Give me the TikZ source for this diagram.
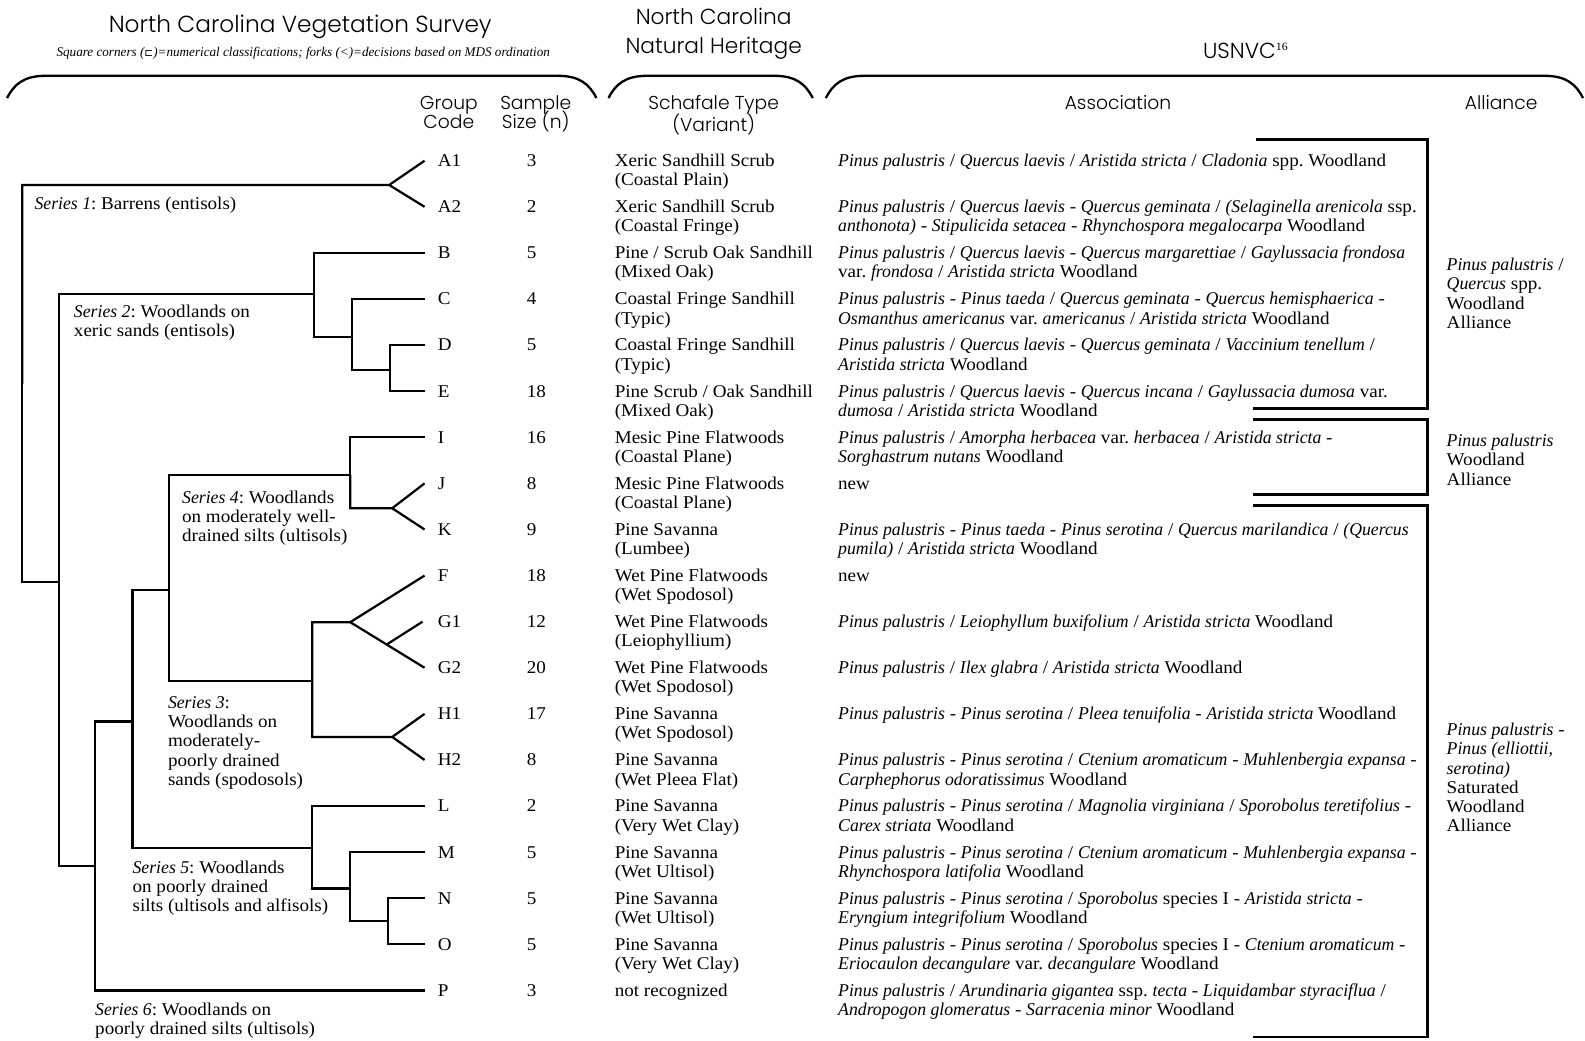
\documentclass[tikz,border=0pt]{standalone}
\usepackage{fontspec}
\setmainfont{Liberation Serif}[UprightFeatures={FakeStretch=1.06},ItalicFeatures={FakeStretch=0.985}]
\newfontfamily\hdr{Poppins Light}
\newfontfamily\symf{DejaVu Sans}
\usetikzlibrary{calc}
\frenchspacing
\newcommand\spn[1]{\textit{#1}}
\newcommand\bodyfont{\fontsize{17.8}{19}\selectfont}
\newcommand\hfont{\hdr\fontsize{18.5}{20}\selectfont}
\newcommand\rowtext[4]{%
  \node[tx] (s-#2) at (608,{159+45.6*#1-7.7}) {\strut #3};
  \node[tx] (a-#2) at (829,{159+45.6*#1-7.7}) {\strut #4};}
\begin{document}
\begin{tikzpicture}[x=1pt,y=-1pt,
  tx/.style={anchor=north west,inner sep=0pt,align=left,font=\bodyfont},
  hd/.style={anchor=base,inner sep=0pt,font=\hfont},
  dend/.style={line width=2.2pt},
  brk/.style={line width=2.6pt},
  brc/.style={line width=2.3pt}]
\useasboundingbox (0,0) rectangle (1568,1029);

% ---------- headers ----------
\node[hd,font=\hdr\fontsize{23}{26}\selectfont] (title) at (297,32) {North Carolina Vegetation Survey};
\node[anchor=base,inner sep=0pt,font=\fontsize{13.2}{15}\selectfont\itshape] (subt) at (300,56)
  {Square corners ({\symf\upshape\fontsize{10.5}{12}\selectfont ⊏})=numerical classifications; forks (<)=decisions based on MDS ordination};
\node[hd,font=\hdr\fontsize{21.5}{24}\selectfont] (nc) at (706,24) {North Carolina};
\node[hd,font=\hdr\fontsize{21.5}{24}\selectfont] (nh) at (706,53) {Natural Heritage};
\node[hd,font=\hdr\fontsize{21.5}{24}\selectfont] (usnvc) at (1232,58) {USNVC\raisebox{8pt}{\rmfamily\fontsize{11}{12}\selectfont 16}};
\node[hd] (grp) at (444,108) {Group};
\node[hd] (code) at (444,127) {Code};
\node[hd] (smp) at (530,108) {Sample};
\node[hd] (siz) at (530,127) {Size (n)};
\node[hd] (sch) at (706,108) {Schafale Type};
\node[hd] (var) at (706,130) {(Variant)};
\node[hd] (asc) at (1106,108) {Association};
\node[hd] (all) at (1485,108) {Alliance};

% ---------- header braces ----------
\draw[brc] (7,97) .. controls (14,83) and (24,75) .. (45,75) -- (552,75) .. controls (573,75) and (583,83) .. (590,97);
\draw[brc] (602,97) .. controls (609,83) and (619,75) .. (640,75) -- (766,75) .. controls (787,75) and (797,83) .. (804,97);
\draw[brc] (817,97) .. controls (824,83) and (834,75) .. (855,75) -- (1528,75) .. controls (1549,75) and (1559,83) .. (1566,97);

% ---------- rows: codes and sample sizes ----------
\foreach \k/\c/\n in {0/A1/3,1/A2/2,2/B/5,3/C/4,4/D/5,5/E/18,6/I/16,7/J/8,8/K/9,9/F/18,10/G1/12,11/G2/20,12/H1/17,13/H2/8,14/L/2,15/M/5,16/N/5,17/O/5,18/P/3}{
  \coordinate (l-\c) at (420,{159+45.6*\k});
  \node[tx] (c-\c) at (433,{159+45.6*\k-7.7}) {\strut\c};
  \node[tx] (n-\c) at (521,{159+45.6*\k-7.7}) {\strut\n};
}

% ---------- Schafale types and associations ----------
\rowtext{0}{A1}{Xeric Sandhill Scrub\\(Coastal Plain)}{\spn{Pinus palustris} / \spn{Quercus laevis} / \spn{Aristida stricta} / \spn{Cladonia} spp. Woodland}
\rowtext{1}{A2}{Xeric Sandhill Scrub\\(Coastal Fringe)}{\spn{Pinus palustris} / \spn{Quercus laevis} - \spn{Quercus geminata} / \spn{(Selaginella arenicola} ssp.\\\spn{anthonota)} - \spn{Stipulicida setacea} - \spn{Rhynchospora megalocarpa} Woodland}
\rowtext{2}{B}{Pine / Scrub Oak Sandhill\\(Mixed Oak)}{\spn{Pinus palustris} / \spn{Quercus laevis} - \spn{Quercus margarettiae} / \spn{Gaylussacia frondosa}\\var. \spn{frondosa} / \spn{Aristida stricta} Woodland}
\rowtext{3}{C}{Coastal Fringe Sandhill\\(Typic)}{\spn{Pinus palustris} - \spn{Pinus taeda} / \spn{Quercus geminata} - \spn{Quercus hemisphaerica} -\\\spn{Osmanthus americanus} var. \spn{americanus} / \spn{Aristida stricta} Woodland}
\rowtext{4}{D}{Coastal Fringe Sandhill\\(Typic)}{\spn{Pinus palustris} / \spn{Quercus laevis} - \spn{Quercus geminata} / \spn{Vaccinium tenellum} /\\\spn{Aristida stricta} Woodland}
\rowtext{5}{E}{Pine Scrub / Oak Sandhill\\(Mixed Oak)}{\spn{Pinus palustris} / \spn{Quercus laevis} - \spn{Quercus incana} / \spn{Gaylussacia dumosa} var.\\\spn{dumosa} / \spn{Aristida stricta} Woodland}
\rowtext{6}{I}{Mesic Pine Flatwoods\\(Coastal Plane)}{\spn{Pinus palustris} / \spn{Amorpha herbacea} var. \spn{herbacea} / \spn{Aristida stricta} -\\\spn{Sorghastrum nutans} Woodland}
\rowtext{7}{J}{Mesic Pine Flatwoods\\(Coastal Plane)}{new}
\rowtext{8}{K}{Pine Savanna\\(Lumbee)}{\spn{Pinus palustris} - \spn{Pinus taeda} - \spn{Pinus serotina} / \spn{Quercus marilandica} / \spn{(Quercus}\\\spn{pumila)} / \spn{Aristida stricta} Woodland}
\rowtext{9}{F}{Wet Pine Flatwoods\\(Wet Spodosol)}{new}
\rowtext{10}{G1}{Wet Pine Flatwoods\\(Leiophyllium)}{\spn{Pinus palustris} / \spn{Leiophyllum buxifolium} / \spn{Aristida stricta} Woodland}
\rowtext{11}{G2}{Wet Pine Flatwoods\\(Wet Spodosol)}{\spn{Pinus palustris} / \spn{Ilex glabra} / \spn{Aristida stricta} Woodland}
\rowtext{12}{H1}{Pine Savanna\\(Wet Spodosol)}{\spn{Pinus palustris} - \spn{Pinus serotina} / \spn{Pleea tenuifolia} - \spn{Aristida stricta} Woodland}
\rowtext{13}{H2}{Pine Savanna\\(Wet Pleea Flat)}{\spn{Pinus palustris} - \spn{Pinus serotina} / \spn{Ctenium aromaticum} - \spn{Muhlenbergia expansa} -\\\spn{Carphephorus odoratissimus} Woodland}
\rowtext{14}{L}{Pine Savanna\\(Very Wet Clay)}{\spn{Pinus palustris} - \spn{Pinus serotina} / \spn{Magnolia virginiana} / \spn{Sporobolus teretifolius} -\\\spn{Carex striata} Woodland}
\rowtext{15}{M}{Pine Savanna\\(Wet Ultisol)}{\spn{Pinus palustris} - \spn{Pinus serotina} / \spn{Ctenium aromaticum} - \spn{Muhlenbergia expansa} -\\\spn{Rhynchospora latifolia} Woodland}
\rowtext{16}{N}{Pine Savanna\\(Wet Ultisol)}{\spn{Pinus palustris} - \spn{Pinus serotina} / \spn{Sporobolus} species I - \spn{Aristida stricta} -\\\spn{Eryngium integrifolium} Woodland}
\rowtext{17}{O}{Pine Savanna\\(Very Wet Clay)}{\spn{Pinus palustris} - \spn{Pinus serotina} / \spn{Sporobolus} species I - \spn{Ctenium aromaticum} -\\\spn{Eriocaulon decangulare} var. \spn{decangulare} Woodland}
\rowtext{18}{P}{not recognized}{\spn{Pinus palustris} / \spn{Arundinaria gigantea} ssp. \spn{tecta} - \spn{Liquidambar styraciflua} /\\\spn{Andropogon glomeratus} - \spn{Sarracenia minor} Woodland}

% ---------- alliances ----------
\draw[brk] (1243,138) -- (1412,138) -- (1412,404) -- (1240,404);
\draw[brk] (1240,415) -- (1412,415) -- (1412,489) -- (1240,489);
\draw[brk] (1240,500) -- (1412,500) -- (1412,1026) -- (1240,1026);
\node[tx] (al1) at (1431,254.3) {\strut\spn{Pinus palustris} /\\\spn{Quercus} spp.\\Woodland\\Alliance};
\node[tx] (al2) at (1431,428.3) {\strut\spn{Pinus palustris}\\Woodland\\Alliance};
\node[tx] (al3) at (1431,714.3) {\strut\spn{Pinus palustris} -\\\spn{Pinus (elliottii,}\\\spn{serotina)}\\Saturated\\Woodland\\Alliance};

% ---------- series labels ----------
\node[tx] (ser1) at (34,193.3) {\strut\spn{Series 1}: Barrens (entisols)};
\node[tx] (ser2) at (73,300.3) {\strut\spn{Series 2}: Woodlands on\\xeric sands (entisols)};
\node[tx] (ser4) at (180,484.3) {\strut\spn{Series 4}: Woodlands\\on moderately well-\\drained silts (ultisols)};
\node[tx] (ser3) at (166,687.3) {\strut\spn{Series 3}:\\Woodlands on\\moderately-\\poorly drained\\sands (spodosols)};
\node[tx] (ser5) at (131,850.3) {\strut\spn{Series 5}: Woodlands\\on poorly drained\\silts (ultisols and alfisols)};
\node[tx] (ser6) at (94,991.3) {\strut\spn{Series 6}: Woodlands on\\poorly drained silts (ultisols)};

% ---------- dendrogram ----------
\coordinate (R) at (22,380);
\coordinate (FA) at (385,183);
\coordinate (C26) at (58.5,576);
\coordinate (S2) at (311,291);
\coordinate (CDE) at (348,333);
\coordinate (DE) at (386,366);
\coordinate (C36) at (94,857);
\coordinate (C35) at (131,713.7);
\coordinate (C34) at (167,584);
\coordinate (S4) at (346.5,469.8);
\coordinate (FJK) at (388,502.8);
\coordinate (S3) at (309,673.5);
\coordinate (FFG) at (346.5,615.5);
\coordinate (FH) at (388,729);
\coordinate (S5) at (309,839);
\coordinate (MNO) at (346.5,879);
\coordinate (NO) at (384,911);

\draw[dend] (R) |- (FA) -- (l-A1);
\draw[dend] (FA) -- (l-A2);
\draw[dend] (R) |- (C26);
\draw[dend] (C26) |- (S2);
\draw[dend] (S2) |- (l-B);
\draw[dend] (S2) |- (CDE);
\draw[dend] (CDE) |- (l-C);
\draw[dend] (CDE) |- (DE);
\draw[dend] (DE) |- (l-D);
\draw[dend] (DE) |- (l-E);
\draw[dend] (C26) |- (C36);
\draw[dend] (C36) |- (l-P);
\draw[dend] (C36) |- (C35);
\draw[dend] (C35) |- (C34);
\draw[dend] (C34) |- (S4);
\draw[dend] (S4) |- (l-I);
\draw[dend] (S4) |- (FJK) -- (l-J);
\draw[dend] (FJK) -- (l-K);
\draw[dend] (C34) |- (S3);
\draw[dend] (S3) |- (FFG) -- (l-F);
\draw[dend] (FFG) -- (l-G2);
\draw[dend] ($(FFG)!0.49!(l-G2)$) -- ($(l-G1)+(-2,0)$);
\draw[dend] (S3) |- (FH) -- (l-H1);
\draw[dend] (FH) -- (l-H2);
\draw[dend] (C35) |- (S5);
\draw[dend] (S5) |- (l-L);
\draw[dend] (S5) |- (MNO);
\draw[dend] (MNO) |- (l-M);
\draw[dend] (MNO) |- (NO);
\draw[dend] (NO) |- (l-N);
\draw[dend] (NO) |- (l-O);
\end{tikzpicture}
\end{document}
